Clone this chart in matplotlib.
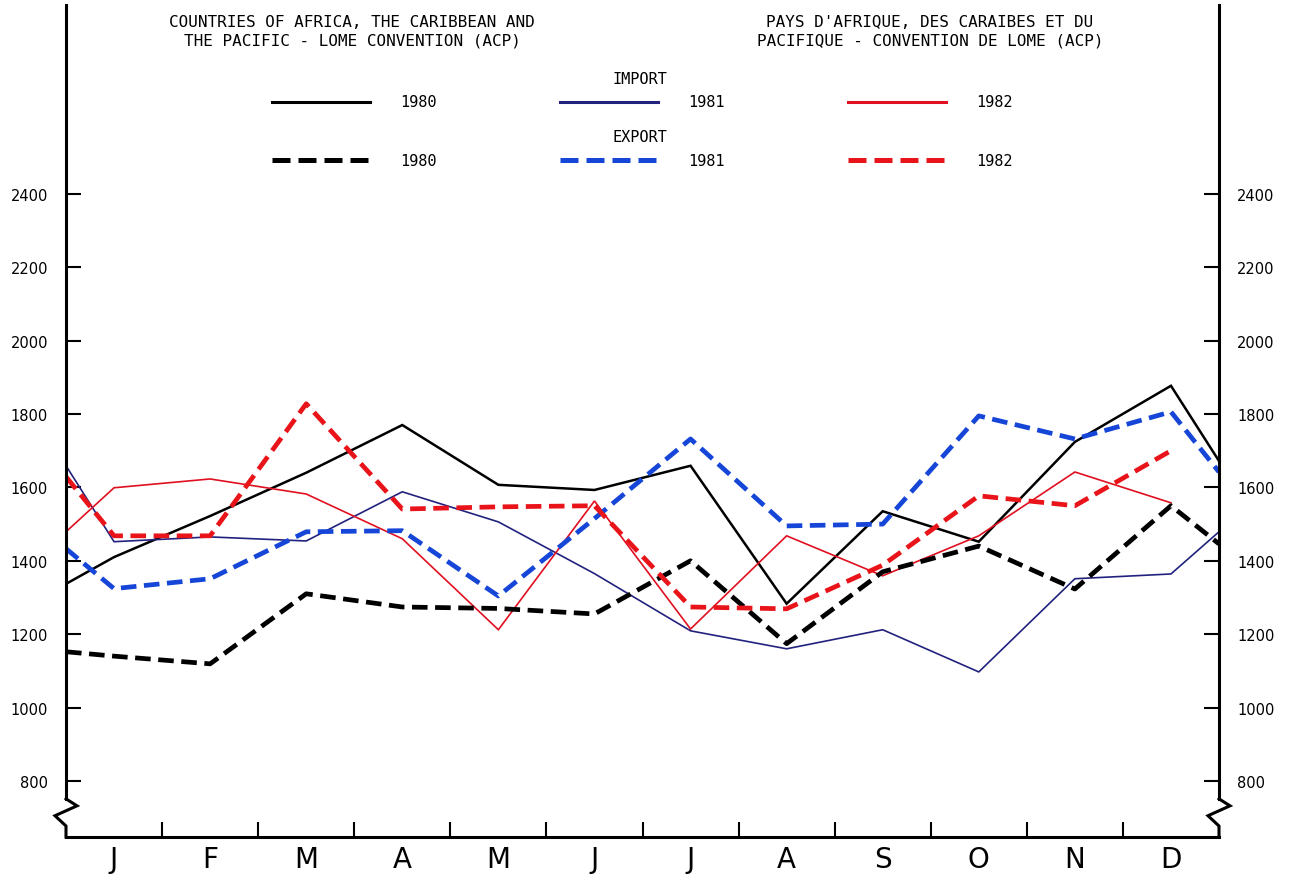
import numpy as np
import matplotlib
matplotlib.use('Agg')
import matplotlib.pyplot as plt
import matplotlib.transforms as mtransforms
from matplotlib.lines import Line2D

# month labels
months = ['J', 'F', 'M', 'A', 'M', 'J', 'J', 'A', 'S', 'O', 'N', 'D']

# values (left edge value, 12 months, right edge value)
imp_1980 = [1337, 1410, 1522, 1640, 1770, 1607, 1593, 1659, 1283, 1535, 1452, 1724, 1877, 1672]
imp_1981 = [1659, 1452, 1465, 1454, 1588, 1506, 1365, 1209, 1160, 1212, 1097, 1351, 1364, 1479]
imp_1982 = [1479, 1599, 1623, 1582, 1460, 1212, 1563, 1214, 1468, 1359, 1468, 1642, 1558]
exp_1980 = [1152, 1140, 1119, 1310, 1274, 1270, 1255, 1400, 1174, 1370, 1440, 1323, 1550, 1446]
exp_1981 = [1433, 1324, 1351, 1479, 1482, 1304, 1515, 1732, 1495, 1500, 1795, 1732, 1806, 1642]
exp_1982 = [1629, 1468, 1468, 1828, 1541, 1547, 1550, 1274, 1269, 1388, 1577, 1550, 1700]

yticks = [800, 1000, 1200, 1400, 1600, 1800, 2000, 2200, 2400]

# x positions: left axis, month centres, right axis
xpos = np.concatenate([[0], np.arange(12) + 0.5, [12]])

fig = plt.figure(figsize=(12.92, 8.78), dpi=100)
ax = fig.add_axes([66 / 1292, 40 / 878, 1153 / 1292, 832 / 878])
ax.set_xlim(0, 12)
ax.set_ylim(647, 2915)

navy = '#22227e'
blue = '#1646d8'
red = '#e01020'
dred = '#e8141a'

dash = (3.3, 1.6)
series = [
    (imp_1980, 'black', 1.8, None),
    (imp_1981, navy, 1.2, None),
    (imp_1982, red, 1.2, None),
    (exp_1980, 'black', 3.4, dash),
    (exp_1981, blue, 3.4, dash),
    (exp_1982, dred, 3.4, dash),
]
handles = []
for vals, col, lw, ds in series:
    ln, = ax.plot(xpos[:len(vals)], vals, color=col, lw=lw, solid_joinstyle='miter')
    if ds is not None:
        ln.set_dashes(ds)
        ln.set_dash_capstyle('butt')
    handles.append((col, lw, ds))

# axes / spines
ax.spines['top'].set_visible(False)
for side in ['left', 'right', 'bottom']:
    ax.spines[side].set_linewidth(2.2)
ax.spines['left'].set_bounds(751, 2915)
ax.spines['right'].set_bounds(751, 2915)

ax.set_yticks(yticks)
ax.set_yticklabels([str(v) for v in yticks])
ax.tick_params(axis='y', direction='in', length=11, width=1.5, pad=13,
               left=True, right=True, labelleft=True, labelright=True, labelsize=10.5)
ax.set_xticks(np.arange(1, 12))
ax.set_xticklabels([])
ax.set_xticks(np.arange(12) + 0.5, minor=True)
ax.set_xticklabels(months, minor=True, fontsize=20)
ax.tick_params(axis='x', which='major', direction='in', length=11, width=1.5)
ax.tick_params(axis='x', which='minor', length=0, pad=6)

# axis break zigzags
tr = mtransforms.blended_transform_factory(ax.transAxes, ax.transData)
dx = 11 / 1153
zz_y = [751, 732, 705, 677, 647]
for x0 in [0, 1]:
    ax.plot([x0, x0 + dx, x0 - dx, x0, x0], zz_y, color='black', lw=2.2,
            transform=tr, clip_on=False, solid_joinstyle='miter')

# titles
mono = 'DejaVu Sans Mono'
fig.text(352 / 1292, 1 - 32 / 878,
         'COUNTRIES OF AFRICA, THE CARIBBEAN AND\nTHE PACIFIC - LOME CONVENTION (ACP)',
         ha='center', va='center', family=mono, fontsize=11.5, linespacing=1.3)
fig.text(930 / 1292, 1 - 32 / 878,
         "PAYS D'AFRIQUE, DES CARAIBES ET DU\nPACIFIQUE - CONVENTION DE LOME (ACP)",
         ha='center', va='center', family=mono, fontsize=11.5, linespacing=1.3)
fig.text(640 / 1292, 1 - 80 / 878, 'IMPORT', ha='center', va='center', family=mono, fontsize=11)
fig.text(640 / 1292, 1 - 138 / 878, 'EXPORT', ha='center', va='center', family=mono, fontsize=11)

# legend drawn by hand
years = ['1980', '1981', '1982']
col_x = [272, 560, 848]
row_y = [103, 161]
for i, (col, lw, ds) in enumerate(handles):
    r, c = divmod(i, 3)
    x0 = col_x[c]
    y0 = 1 - row_y[r] / 878
    ln = Line2D([x0 / 1292, (x0 + 98) / 1292], [y0, y0], color=col,
                lw=2.2 if ds is None else 3.6, transform=fig.transFigure)
    if ds is not None:
        ln.set_dashes((3.6, 1.6))
        ln.set_dash_capstyle('butt')
    fig.add_artist(ln)
    fig.text((x0 + 128) / 1292, y0, years[c], ha='left', va='center', family=mono, fontsize=11)

fig.savefig('out.png', dpi=100)
